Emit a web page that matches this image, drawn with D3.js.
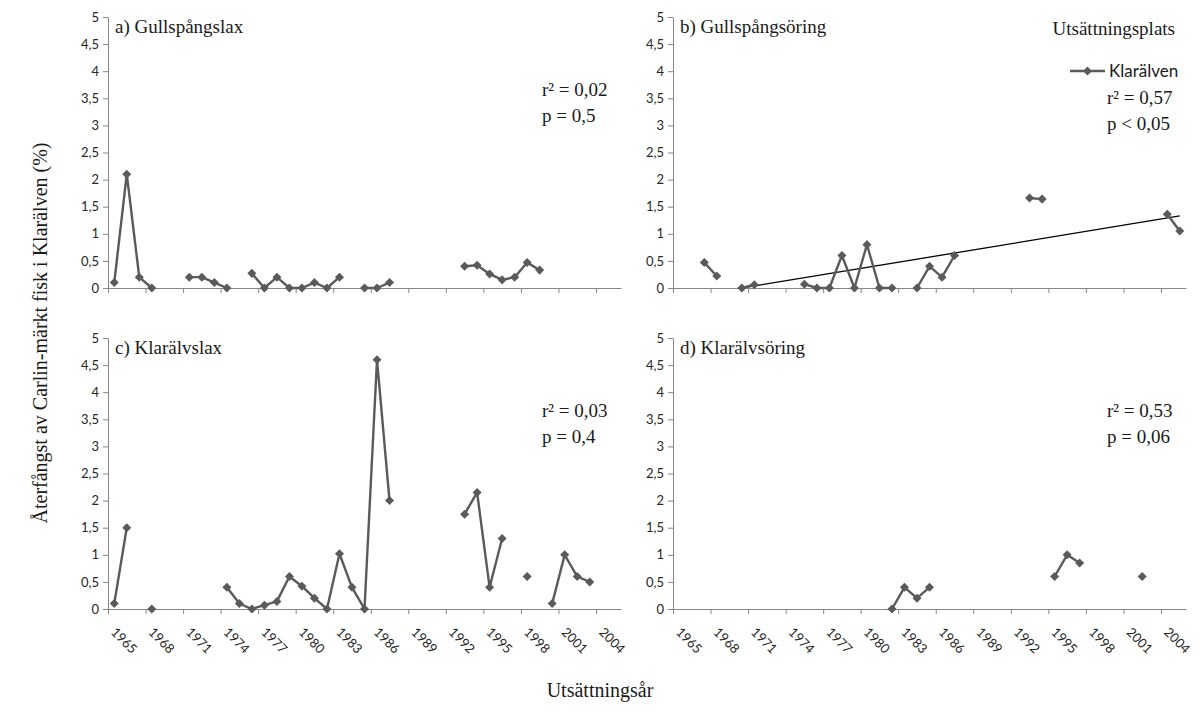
<!DOCTYPE html>
<html>
  <head>
    <meta charset="utf-8">
    <title>Återfångst av Carlin-märkt fisk i Klarälven</title>
    <script src="https://d3js.org/d3.v7.min.js"></script>
    <style>
      body { margin: 0; background: #fff; }
      .serif { font-family: "Liberation Serif", "DejaVu Serif", serif; fill: #1a1a1a; }
      .tick text { font-family: Lato, "Open Sans", sans-serif; font-size: 13px; fill: #262626; }
      .domain, .tick line { stroke: #868686; stroke-width: 1; }
    </style>
  </head>
  <body>
    <svg id="svg" width="1200" height="711"></svg>
    <script>
      // categories (utsättningsår)
      var years = [1965, 1966, 1967, 1968, 1969, 1970, 1971, 1972, 1973, 1974,
                   1975, 1976, 1977, 1978, 1979, 1980, 1981, 1982, 1983, 1984,
                   1985, 1986, 1987, 1988, 1989, 1990, 1991, 1992, 1993, 1994,
                   1995, 1996, 1997, 1998, 1999, 2000, 2001, 2002, 2003, 2004, 2005];
      var yearLabels = [1965, 1968, 1971, 1974, 1977, 1980, 1983, 1986, 1989, 1992, 1995, 1998, 2001, 2004];
      var valueTicks = [0, 0.5, 1, 1.5, 2, 2.5, 3, 3.5, 4, 4.5, 5];
      // recapture (%) per year, null = no release
      var gullspangLax = [0.1, 2.1, 0.2, 0, null, null, 0.2, 0.2, 0.1, 0,
                          null, 0.27, 0, 0.2, 0, 0, 0.1, 0, 0.2, null,
                          0, 0, 0.1, null, null, null, null, null, 0.4, 0.42,
                          0.26, 0.15, 0.2, 0.47, 0.33, null, null, null, null, null, null];
      var gullspangOring = [null, null, 0.47, 0.22, null, 0, 0.06, null, null, null,
                            0.07, 0, 0, 0.6, 0, 0.8, 0, 0, null, 0,
                            0.4, 0.2, 0.6, null, null, null, null, null, 1.66, 1.64,
                            null, null, null, null, null, null, null, null, null, 1.36, 1.05];
      var klaralvLax = [0.1, 1.5, null, 0, null, null, null, null, null, 0.4,
                        0.1, 0, 0.07, 0.14, 0.6, 0.42, 0.2, 0, 1.02, 0.4,
                        0, 4.6, 2.0, null, null, null, null, null, 1.75, 2.15,
                        0.4, 1.3, null, 0.6, null, 0.1, 1.0, 0.6, 0.5, null, null];
      var klaralvOring = [null, null, null, null, null, null, null, null, null, null,
                          null, null, null, null, null, null, null, 0, 0.4, 0.2,
                          0.4, null, null, null, null, null, null, null, null, null,
                          0.6, 1.0, 0.85, null, null, null, null, 0.6, null, null, null];
      // linear trend for b), from first to last year
      var trendYears = [1965, 2005];
      var trendValues = [-0.19, 1.33];
      var panelTitles = ["a) Gullspångslax", "b) Gullspångsöring", "c) Klarälvslax", "d) Klarälvsöring"];
      var panelStats = [["r² = 0,02", "p = 0,5"], ["r² = 0,57", "p < 0,05"],
                        ["r² = 0,03", "p = 0,4"], ["r² = 0,53", "p = 0,06"]];
      var panelSeries = [gullspangLax, gullspangOring, klaralvLax, klaralvOring];

      var svg = d3.select("#svg");
      var colLeft = [108, 673], plotW = 513;
      var rowTop = [17, 338], plotH = 271;
      var lineColor = "#5a5a5a";
      var comma = d3.formatLocale({decimal: ",", thousands: " ", grouping: [3], currency: ["", ""]}).format("");
      var diamond = d3.symbol().type(d3.symbolDiamond2).size(52);

      svg.append("clipPath").attr("id", "clipB")
        .append("rect")
          .attr("x", colLeft[1]).attr("y", rowTop[0])
          .attr("width", plotW).attr("height", plotH);

      panelSeries.forEach(function(series, i) {
        var left = colLeft[i % 2], top = rowTop[Math.floor(i / 2)];
        var x = d3.scaleLinear().domain([years[0] - 0.5, years[years.length - 1] + 0.5]).range([left, left + plotW]);
        var y = d3.scaleLinear().domain([0, 5]).range([top + plotH, top]);
        var g = svg.append("g");

        // axes
        g.append("g")
          .attr("transform", "translate(" + left + ",0)")
          .call(d3.axisLeft(y).tickValues(valueTicks).tickSize(5).tickSizeOuter(0).tickPadding(4).tickFormat(comma));
        var bounds = yearLabels.map(function(d) { return d - 0.5; });
        g.append("g")
          .attr("transform", "translate(0," + y(0) + ")")
          .call(d3.axisBottom(x).tickValues(bounds).tickSize(5).tickSizeOuter(0).tickFormat(""));
        if (i >= 2) {
          g.selectAll(".yl")
              .data(yearLabels)
            .enter().append("text")
              .attr("transform", function(d) { return "translate(" + (x(d) - 4) + "," + (y(0) + 24) + ") rotate(45)"; })
              .style("font-family", "Lato, 'Open Sans', sans-serif")
              .style("font-size", "13px")
              .style("fill", "#262626")
              .text(function(d) { return d; });
        }

        // trend line in b
        if (i === 1) {
          g.append("line")
            .attr("clip-path", "url(#clipB)")
            .attr("x1", x(trendYears[0])).attr("y1", y(trendValues[0]))
            .attr("x2", x(trendYears[1])).attr("y2", y(trendValues[1]))
            .style("stroke", "#000").style("stroke-width", 1.3);
        }

        var pts = years.map(function(yr, j) { return {year: yr, v: series[j]}; });
        var line = d3.line()
          .defined(function(d) { return d.v != null; })
          .x(function(d) { return x(d.year); })
          .y(function(d) { return y(d.v); });
        g.append("path")
          .datum(pts)
          .attr("d", line)
          .style("fill", "none").style("stroke", lineColor).style("stroke-width", 2.4)
          .style("stroke-linejoin", "round");
        g.selectAll(".pt")
            .data(pts.filter(function(d) { return d.v != null; }))
          .enter().append("path")
            .attr("d", diamond)
            .attr("transform", function(d) { return "translate(" + x(d.year) + "," + y(d.v) + ")"; })
            .style("fill", lineColor);

        // texts
        g.append("text").attr("class", "serif")
          .attr("x", left + 7).attr("y", top + 16)
          .style("font-size", "19px")
          .text(panelTitles[i]);
        var statY = top + (i === 1 ? 87 : 79);
        panelStats[i].forEach(function(s, k) {
          g.append("text").attr("class", "serif")
            .attr("x", left + plotW - 79).attr("y", statY + k * 26)
            .style("font-size", "19px")
            .text(s);
        });

        // legend in b
        if (i === 1) {
          g.append("text").attr("class", "serif")
            .attr("x", left + plotW - 11).attr("y", 35)
            .attr("text-anchor", "end")
            .style("font-size", "19px")
            .text("Utsättningsplats");
          var ly = 71;
          g.append("line")
            .attr("x1", 1070).attr("x2", 1105).attr("y1", ly).attr("y2", ly)
            .style("stroke", lineColor).style("stroke-width", 2.4);
          g.append("path").attr("d", diamond)
            .attr("transform", "translate(1087.5," + ly + ")")
            .style("fill", lineColor);
          g.append("text")
            .attr("x", 1109).attr("y", ly + 6)
            .style("font-family", "Lato, 'Open Sans', sans-serif")
            .style("font-size", "17px")
            .style("fill", "#1a1a1a")
            .text("Klarälven");
        }
      });

      // axis titles
      svg.append("text").attr("class", "serif")
        .attr("x", 600).attr("y", 697)
        .attr("text-anchor", "middle")
        .style("font-size", "20px")
        .text("Utsättningsår");
      svg.append("text").attr("class", "serif")
        .attr("transform", "translate(47,333) rotate(-90)")
        .attr("text-anchor", "middle")
        .style("font-size", "20px")
        .text("Återfångst av Carlin-märkt fisk i Klarälven (%)");
    </script>
  </body>
</html>
